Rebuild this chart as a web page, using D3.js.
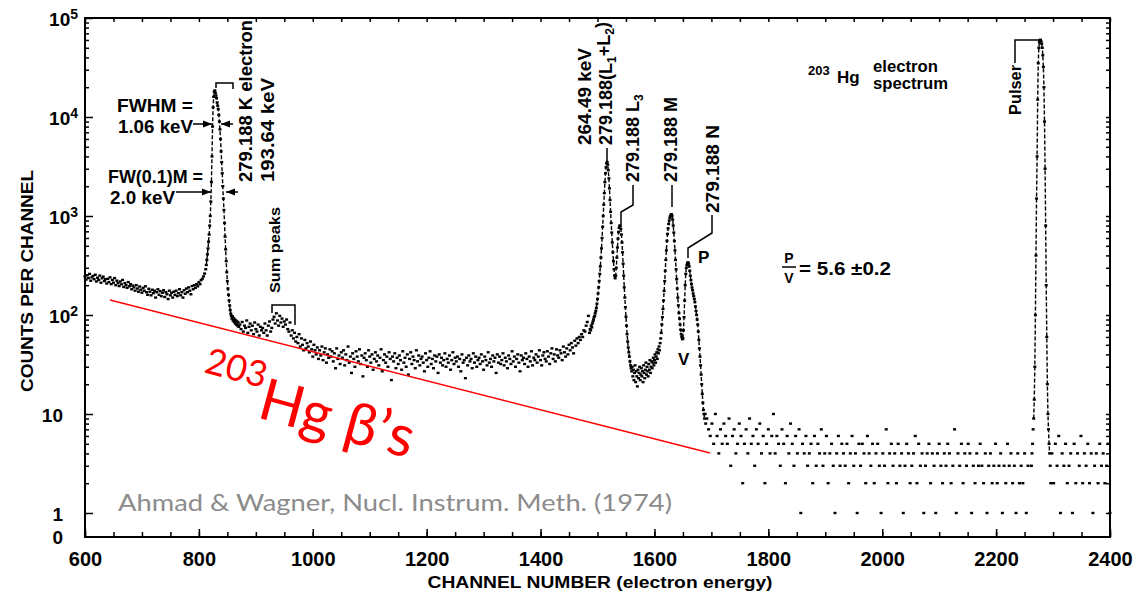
<!DOCTYPE html>
<html>
<head>
<meta charset="utf-8">
<script src="https://cdn.jsdelivr.net/npm/d3@7"></script>
<style>
  body { margin: 0; background: #fff; }
  svg { display: block; }
  text { font-family: "Liberation Sans", Arial, sans-serif; font-weight: bold; fill: #000; }
  .axis .domain { display: none; }
  .axis line { stroke: #000; stroke-width: 1.5; }
</style>
</head>
<body>
<svg id="chart" width="1138" height="596"></svg>
<script>
// axis labels
var xTickLabels = [600, 800, 1000, 1200, 1400, 1600, 1800, 2000, 2200, 2400];
var yDecades = [1, 10, 100, 1000, 10000, 100000];
var yLabelBase = ["1", "10", "10", "10", "10", "10"];
var yLabelExp = ["", "", "2", "3", "4", "5"];

// continuum below the K line, every 2nd channel from 600
var leftStart = 600, leftStep = 2;
var leftCounts = [
  245,228,252,236,260,222,240,248,230,255,
  218,238,226,250,212,235,244,220,230,208,
  232,215,240,205,226,212,236,200,222,210,
  196,218,204,226,192,210,200,188,215,195,
  205,182,198,190,176,200,185,172,194,180,
  168,188,176,195,170,160,184,172,158,180,
  166,176,150,170,182,160,174,155,168,178,
  152,170,162,145,176,158,168,150,172,160,
  176,155,166,182,158,170,150,178,164,185,
  170,190,176,162,196,182,200,188,205,195,
  215,205,225,232,245,262,290
];

// 279.188 keV K conversion line, every channel from 813
var kStart = 813, kStep = 1;
var kCounts = [
  320,360,410,470,550,650,800,1000,1400,2200,
  4000,8000,12500,16000,18000,18500,17500,16500,15500,14000,
  13000,12000,10500,9000,7500,6000,4500,3500,2700,2000,
  1500,1150,850,620,460,350,270,220,185,160,
  140,125,112,103,98,92,97,88,93,85,
  90,82,88,80,86,78,84,76
];

// continuum with the sum peaks, every 2nd channel from 872
var midStart = 872, midStep = 2;
var midCounts = [
  80,72,85,68,78,74,88,66,76,82,
  70,78,64,84,72,68,80,62,76,70,
  74,66,82,70,62,78,86,68,74,90,
  96,82,104,88,78,98,84,92,76,86,
  80,90,72,68,84,62,70,58,66,54,
  60,52,64,48,58,50,44,56,46,52,
  48,42,54,45,38,50,44,40,47,36,
  44,39,48,35,42,46,33,40,37,45,
  38,43,34,41,29,46,36,39,32,42,
  37,44,31,40,35,48,33,38,26,41,
  36,30,43,38,34,45,32,39,24,37,
  41,35,30,44,38,33,40,28,36,42,
  34,39,31,37,45,27,35,40,33,38,
  30,42,36,22,38,34,41,29,37,32,
  39,35,28,43,33,37,30,40,25,36,
  42,32,38,35,29,44,34,39,31,36,
  38,33,27,41,35,30,37,43,32,36,
  29,39,34,38,26,40,33,37,31,35,
  41,30,36,33,39,28,35,42,32,37,
  34,38,30,36,27,40,33,35,23,37,
  31,39,34,36,29,41,33,38,30,35,
  37,32,40,34,28,38,35,31,42,33,
  36,30,39,34,37,26,40,33,38,32,
  35,41,31,37,34,29,39,36,32,43,
  34,38,30,36,40,33,27,39,35,37,
  32,41,36,30,38,34,43,31,37,35,
  40,33,38,44,35,31,39,42,36,34,
  43,38,32,41,46,36,40,34,45,39,
  37,44,41,35,48,42,38,46,40,50,
  44,52,47,41,55,49,58,52,60,56,
  64,60,70,68,78,85,98
];

// L1+L2, L3, M and N lines, every channel from 1486
var lmnStart = 1486, lmnStep = 1;
var lmnCounts = [
  66,72,70,78,75,82,86,90,95,98,
  104,110,118,130,145,165,190,220,260,310,
  380,470,600,780,1000,1300,1700,2200,2700,3100,
  3400,3500,3300,2900,2400,1900,1450,1100,850,680,
  540,430,350,290,250,235,250,300,380,480,
  590,690,760,800,790,740,650,540,430,330,
  250,190,150,120,96,78,64,54,47,42,
  38,34,31,29,27,30,24,28,22,26,
  31,21,27,24,19,28,23,26,30,22,
  25,29,24,27,21,31,26,23,28,33,
  25,30,27,24,32,28,35,26,30,34,
  29,33,37,31,35,40,33,38,42,36,
  45,41,48,44,52,58,66,80,95,115,
  140,175,220,280,360,450,560,660,750,830,
  900,960,1000,1030,1040,1000,920,800,680,560,
  450,360,290,230,185,150,125,105,92,80,
  71,64,60,57,58,70,95,140,200,260,
  300,320,335,340,330,310,280,250,225,205,
  190,178,165,155,145,135,122,110,100,90,
  80,68,56,46,38,31,25,20,16,13,
  11,10,9,10,8
];

// low-count tail, every 3rd channel from 1692
var tailStart = 1692, tailStep = 3;
var tailCounts = [
  9,7,6,8,5,10,6,4,7,5,
  8,6,5,9,3,6,7,4,5,8,
  6,2,5,7,4,9,5,6,3,7,
  5,8,4,6,2,5,7,4,6,10,
  4,6,5,3,7,5,2,6,4,8,
  5,3,6,4,7,1,5,4,6,3,
  4,5,2,6,3,5,4,7,3,4,
  6,2,4,5,3,1,4,6,3,5,
  4,3,5,2,4,6,3,4,1,5,
  3,5,4,2,6,4,3,5,2,4,
  5,3,1,4,3,7,2,4,5,3,
  4,2,5,3,4,1,3,5,4,2,
  3,4,6,2,5,3,4,1,3,4,
  5,2,4,3,1,4,5,3,2,4,
  3,5,4,2,3,7,1,4,3,5,
  2,4,3,5,4,1,3,2,4,3,
  5,3,2,4,1,3,4,2,3,5,
  2,3,4,1,3,2,5,3,4,2,
  3,1,4,2,3,2,4,1,3
];

// pulser, every channel from 2262
var pulserStart = 2262, pulserStep = 1;
var pulserCounts = [
  3,4,5,7,9,14,30,100,400,1500,
  4000,15000,35000,50000,57000,60000,60000,58000,55000,50000,
  42000,32000,20000,9000,3000,800,200,60,20,10,
  7,5,4,3,2
];

// tail above the pulser, every 3rd channel from 2298
var tail2Start = 2298, tail2Step = 3;
var tail2Counts = [
  4,2,5,3,6,1,4,3,5,2,
  3,4,1,5,2,4,3,6,2,4,
  3,5,2,4,1,3,4,2,5,3,
  4,2,3,5,1
];

// channel ranges drawn as dashed traces (the steep lines)
var lineRanges = [[813, 862], [1496, 1560], [1612, 1688], [2266, 2294]];

var svg = d3.select("#chart");
var x = d3.scaleLinear().domain([600, 2400]).range([85, 1110]);
var y = d3.scaleLog().domain([1, 1e5]).range([513, 18]);
var yZero = 537;
function yc(c) { return c > 0 ? y(c) : yZero; }

function segment(start, step, counts) {
  return counts.map(function(c, i) { return {ch: start + i * step, c: c}; });
}
var points = [].concat(
  segment(leftStart, leftStep, leftCounts),
  segment(kStart, kStep, kCounts),
  segment(midStart, midStep, midCounts),
  segment(lmnStart, lmnStep, lmnCounts),
  segment(tailStart, tailStep, tailCounts),
  segment(pulserStart, pulserStep, pulserCounts),
  segment(tail2Start, tail2Step, tail2Counts)
);

// frame
svg.append("rect").attr("x", x(600)).attr("y", y(1e5))
  .attr("width", x(2400) - x(600)).attr("height", yZero - y(1e5))
  .attr("fill", "none").attr("stroke", "#000").attr("stroke-width", 2);

// bottom axis
var minorX = d3.range(600, 2401, 50);
svg.append("g").attr("class", "axis").attr("transform", "translate(0," + yZero + ")")
  .call(d3.axisBottom(x).tickValues(minorX).tickSizeInner(-5).tickSizeOuter(0).tickFormat(""));
var xAxis = svg.append("g").attr("class", "axis").attr("transform", "translate(0," + yZero + ")")
  .call(d3.axisBottom(x).tickValues(xTickLabels).tickSizeInner(-8).tickSizeOuter(0)
    .tickPadding(15).tickFormat(d3.format("d")));
xAxis.selectAll("text").style("font-size", "20px").style("font-family", null);

// top axis
svg.append("g").attr("class", "axis").attr("transform", "translate(0," + y(1e5) + ")")
  .call(d3.axisTop(x).tickValues(minorX).tickSizeInner(-4).tickSizeOuter(0).tickFormat(""));

// left and right log axes
var yMinor = [];
yDecades.slice(0, 5).forEach(function(d) {
  for (var k = 2; k <= 9; k++) yMinor.push(d * k);
});
svg.append("g").attr("class", "axis").attr("transform", "translate(" + x(600) + ",0)")
  .call(d3.axisLeft(y).tickValues(yMinor).tickSizeInner(-4).tickSizeOuter(0).tickFormat(""));
var yAxis = svg.append("g").attr("class", "axis").attr("transform", "translate(" + x(600) + ",0)")
  .call(d3.axisLeft(y).tickValues(yDecades).tickSizeInner(-8).tickSizeOuter(0).tickPadding(7));
yAxis.selectAll(".tick text").each(function(d, i) {
  var t = d3.select(this).text(null)
    .style("font-size", "19px").style("font-family", null)
    .attr("dy", "0.42em").attr("x", yLabelExp[i] ? -7 : -22);
  t.append("tspan").text(yLabelBase[i]);
  if (yLabelExp[i]) t.append("tspan").attr("dy", "-0.55em").style("font-size", "14px").text(yLabelExp[i]);
});
svg.append("text").attr("x", x(600) - 22).attr("y", yZero + 7).attr("text-anchor", "end")
  .style("font-size", "19px").text("0");
svg.append("g").attr("class", "axis").attr("transform", "translate(" + x(2400) + ",0)")
  .call(d3.axisRight(y).tickValues(yMinor.concat(yDecades)).tickSizeInner(-4).tickSizeOuter(0).tickFormat(""));

// axis titles
svg.append("text").attr("x", 600).attr("y", 588).attr("text-anchor", "middle")
  .attr("textLength", 345).attr("lengthAdjust", "spacingAndGlyphs")
  .style("font-size", "16px").text("CHANNEL NUMBER (electron energy)");
svg.append("text").attr("transform", "translate(33,281) rotate(-90)").attr("text-anchor", "middle")
  .attr("textLength", 222).attr("lengthAdjust", "spacingAndGlyphs")
  .style("font-size", "17px").text("COUNTS PER CHANNEL");

// spectrum
var trace = d3.line().x(function(d) { return x(d.ch); }).y(function(d) { return yc(d.c); });
lineRanges.forEach(function(r) {
  svg.append("path")
    .datum(points.filter(function(p) { return p.ch >= r[0] && p.ch <= r[1]; }))
    .attr("d", trace).attr("fill", "none").attr("stroke", "#000")
    .attr("stroke-width", 1.4).attr("stroke-dasharray", "4,2");
});
svg.append("g").selectAll("rect").data(points).join("rect")
  .attr("x", function(d) { return x(d.ch) - 1.5; })
  .attr("y", function(d) { return yc(d.c) - 1.2; })
  .attr("width", 3).attr("height", 2.4).attr("fill", "#000");

// annotations
var defs = svg.append("defs");
defs.append("marker").attr("id", "arr").attr("viewBox", "0 0 10 10").attr("refX", 10).attr("refY", 5)
  .attr("markerWidth", 6).attr("markerHeight", 6).attr("orient", "auto")
  .append("path").attr("d", "M0,1 L10,5 L0,9 Z").attr("fill", "#000");

function label(tx, ty, str, size, len) {
  var t = svg.append("text").attr("x", tx).attr("y", ty).style("font-size", size + "px").text(str);
  if (len) t.attr("textLength", len).attr("lengthAdjust", "spacingAndGlyphs");
  return t;
}
function vlabel(bx, by, str, size, len) {
  var t = svg.append("text").attr("transform", "translate(" + bx + "," + by + ") rotate(-90)")
    .style("font-size", size + "px").text(str);
  if (len) t.attr("textLength", len).attr("lengthAdjust", "spacingAndGlyphs");
  return t;
}
function arrow(x1, y1, x2, y2) {
  svg.append("line").attr("x1", x1).attr("y1", y1).attr("x2", x2).attr("y2", y2)
    .attr("stroke", "#000").attr("stroke-width", 1.5).attr("marker-end", "url(#arr)");
}
function leader(pts) {
  svg.append("path").attr("d", d3.line()(pts)).attr("fill", "none")
    .attr("stroke", "#000").attr("stroke-width", 1.5);
}

label(117, 112, "FWHM =", 18, 76);
label(118, 133, "1.06 keV", 18, 75);
arrow(193, 124, 212, 124);
arrow(233, 124, 221, 124);
label(108, 183, "FW(0.1)M =", 18, 95);
label(110, 204, "2.0 keV", 18, 65);
arrow(176, 192, 211, 192);
arrow(238, 192, 226, 192);

vlabel(252, 182, "279.188 K electron", 19, 162);
vlabel(274, 182, "193.64 keV", 19, 104);
leader([[216, 88], [216, 83], [233, 83], [233, 89]]);

vlabel(280, 293, "Sum peaks", 15, 86);
leader([[272, 313], [272, 305], [295, 305], [295, 325]]);

vlabel(591, 145, "264.49 keV", 18, 97);
var l12 = svg.append("text").attr("transform", "translate(612,145) rotate(-90)").style("font-size", "18px");
l12.append("tspan").text("279.188(L");
l12.append("tspan").attr("dy", "0.3em").style("font-size", "12px").text("1");
l12.append("tspan").attr("dy", "-0.3em").text("+L");
l12.append("tspan").attr("dy", "0.3em").style("font-size", "12px").text("2");
l12.append("tspan").attr("dy", "-0.3em").text(")");
leader([[607, 148], [607, 162]]);

var l3 = svg.append("text").attr("transform", "translate(639,182) rotate(-90)").style("font-size", "18px");
l3.append("tspan").text("279.188 L");
l3.append("tspan").attr("dy", "0.3em").style("font-size", "12px").text("3");
leader([[633, 185], [633, 205], [621, 212], [621, 225]]);

vlabel(677, 182, "279.188 M", 18, 85);
leader([[672, 185], [672, 207]]);

vlabel(719, 213, "279.188 N", 18, 88);
leader([[712, 215], [712, 233], [688, 248], [688, 258]]);

label(698, 263, "P", 17);
label(678, 365, "V", 17);

label(808, 75, "203", 13);
label(837, 83, "Hg", 17);
label(873, 72, "electron", 16, 65);
label(873, 89, "spectrum", 16, 75);

svg.append("text").attr("x", 789).attr("y", 263).attr("text-anchor", "middle").style("font-size", "14px").text("P");
svg.append("line").attr("x1", 782).attr("x2", 796).attr("y1", 267).attr("y2", 267)
  .attr("stroke", "#000").attr("stroke-width", 1.5);
svg.append("text").attr("x", 789).attr("y", 283).attr("text-anchor", "middle").style("font-size", "14px").text("V");
label(799, 275, "= 5.6 \u00b10.2", 18, 92);

vlabel(1021, 115, "Pulser", 16, 50);
leader([[1015, 63], [1015, 40], [1040, 40]]);

// beta continuum overlay
svg.append("line").attr("x1", 110).attr("y1", 300).attr("x2", 710).attr("y2", 453)
  .attr("stroke", "#ff0000").attr("stroke-width", 1.4);
var beta = svg.append("text").attr("transform", "translate(203,372) rotate(15)")
  .style("font-family", "Lato, 'Open Sans', sans-serif").style("font-weight", "normal").style("fill", "#ff0000");
beta.append("tspan").style("font-size", "36px").text("203");
beta.append("tspan").attr("dy", 30).style("font-size", "58px").text("Hg \u03b2\u2019s");

svg.append("text").attr("x", 118).attr("y", 511)
  .attr("textLength", 554).attr("lengthAdjust", "spacingAndGlyphs")
  .style("font-family", "Lato, 'Open Sans', sans-serif").style("font-weight", "normal")
  .style("font-size", "23px").style("fill", "#8c8c8c")
  .text("Ahmad & Wagner, Nucl. Instrum. Meth. (1974)");
</script>
</body>
</html>
